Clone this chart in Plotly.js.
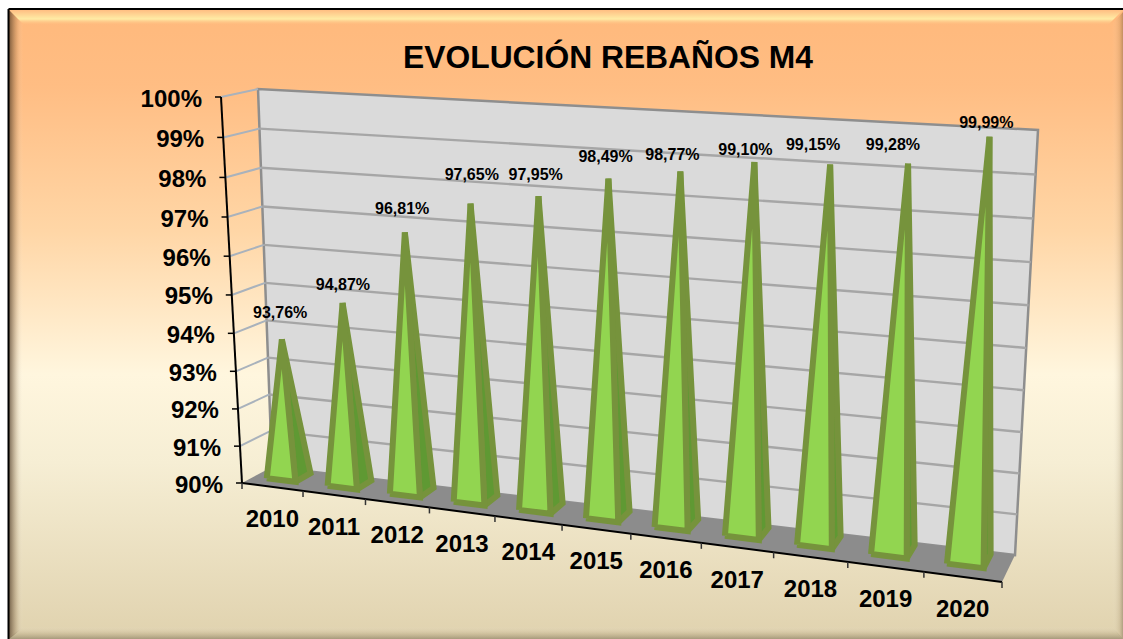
<!DOCTYPE html>
<html><head><meta charset="utf-8">
<script src="https://cdn.plot.ly/plotly-3.0.1.min.js"></script>
<style>html,body{margin:0;padding:0;background:#fff}#chart{width:1123px;height:639px}</style>
</head><body><div id="chart"></div>
<script>
// ---- data ----
const years = ['2010','2011','2012','2013','2014','2015','2016','2017','2018','2019','2020'];
const herdPct = [93.76,94.87,96.81,97.65,97.95,98.49,98.77,99.10,99.15,99.28,99.99];
const axisTicks = [90,91,92,93,94,95,96,97,98,99,100];
const titleText = 'EVOLUCIÓN REBAÑOS M4';
// label placement nudges per year (px from the pyramid's apex)
const nudgeX = [-4,-2,-5,-1,-5,-5,-10,-11,-19,-17,-5];
const nudgeY = [-25,-17,-22,-27,-20,-20,-15,-11,-18,-17,-12];

// ---- 3D box projected on the page ----
const box = {
  fl0:[242,483], fr0:[1002,582], bl0:[272,467], br0:[1015,555],
  fl1:[221,97],  fr1:[1030,146], bl1:[258,89],  br1:[1038,130]
};
const persp = (t,s)=> t*s/(1+(s-1)*t);
const uOf = t => persp(t,0.873);
const vOf = val => persp((val-90)/10,0.95);
const mix = (a,b,t)=>[a[0]+(b[0]-a[0])*t,a[1]+(b[1]-a[1])*t];
function P(u,v,d){
  const b0=mix(mix(box.fl0,box.bl0,d),mix(box.fr0,box.br0,d),u);
  const b1=mix(mix(box.fl1,box.bl1,d),mix(box.fr1,box.br1,d),u);
  return mix(b0,b1,v);
}
const poly = pts => ({x:pts.map(p=>p[0]),y:pts.map(p=>p[1])});

const traces=[];
function gradRect(x0,y0,x1,y1,type,stops,start,stop,pts){
  const p = pts || [[x0,y0],[x1,y0],[x1,y1],[x0,y1],[x0,y0]];
  traces.push({...poly(p),mode:'lines',line:{width:0},fill:'toself',hoverinfo:'skip',
    fillgradient:{type,colorscale:stops,start,stop}});
}
function fillPoly(pts,fill,lc,lw){
  traces.push({...poly(pts.concat([pts[0]])),mode:'lines',fill:'toself',fillcolor:fill,
    line:{color:lc||fill,width:lw||0},hoverinfo:'skip'});
}
function line(pts,color,w){
  traces.push({...poly(pts),mode:'lines',line:{color,width:w},hoverinfo:'skip'});
}

// ---- frame and background ----
gradRect(9,10,1123,639,'vertical',[
  [0,'#FFB97C'],[0.12,'#FFBD83'],[0.35,'#FFD6A6'],[0.58,'#FFF6DE'],[0.72,'#F6EED4'],[1,'#E0D2AE']],10,639);
gradRect(9,10,1123,25,'vertical',[
  [0,'rgba(255,190,130,1)'],[0.6,'rgba(255,236,165,1)'],[1,'rgba(255,190,130,0)']],10,25,
  [[9,10],[1123,10],[1108,25],[24,25],[9,10]]);
gradRect(9,10,23,639,'horizontal',[
  [0,'rgba(70,50,30,0.7)'],[0.55,'rgba(120,90,60,0.2)'],[1,'rgba(255,255,255,0)']],9,23,
  [[9,10],[23,24],[23,628],[9,639],[9,10]]);
gradRect(1112,10,1123,639,'horizontal',[
  [0,'rgba(255,255,255,0)'],[0.7,'rgba(120,95,60,0.15)'],[1,'rgba(80,60,40,0.35)']],1112,1123,
  [[1123,12],[1112,24],[1112,628],[1123,639],[1123,12]]);
gradRect(9,626,1123,639,'vertical',[
  [0,'rgba(255,255,255,0)'],[0.6,'rgba(120,105,70,0.18)'],[1,'rgba(80,70,50,0.4)']],626,639,
  [[22,626],[1112,626],[1123,639],[9,639],[22,626]]);
line([[8.5,9],[1123,9]],'#000',2);
line([[8.5,9],[8.5,639]],'#000',2);

// ---- walls and floor ----
fillPoly([P(0,0,1),P(1,0,1),P(1,1,1),P(0,1,1)],'#DADADA','#8E8E8E',2.5);
fillPoly([P(0,0,0),P(1,0,0),P(1,0,1),P(0,0,1)],'#8C8C8C');
axisTicks.forEach((t,k)=>{
  const v=vOf(t);
  if(k>0 && k<axisTicks.length-1) line([P(0,v,1),P(1,v,1)],'#A6A6A6',2.4);
  if(k>0) line([P(0,v,0),P(0,v,1)],'#A9B2BC',2);
  line([[P(0,v,0)[0]-6,P(0,v,0)[1]],P(0,v,0)],'#000',1.5);
});
line([P(0,0,0),P(0,1,0)],'#000',2);
line([P(0,0,0),P(1,0,0)],'#000',2);
for(let i=0;i<=years.length;i++){
  const a=P(uOf(i/years.length),0,0);
  line([a,[a[0],a[1]+6]],'#333',1.5);
}

// ---- pyramids ----
const halfU=0.0215, dFront=0.40, dBack=0.92, shiftU=-0.004, apexShiftU=-0.006, strokeDrop=0.008;
herdPct.forEach((val,i)=>{
  const c=(i+0.5)/years.length;
  const L=uOf(c-halfU)+shiftU, R=uOf(c+halfU)+shiftU, C=uOf(c)+apexShiftU;
  const dC=(dFront+dBack)/2, v=vOf(val)-strokeDrop;
  const fl=P(L,0,dFront), fr=P(R,0,dFront), rb=P(R,0,dBack), apex=P(C,v,dC);
  fillPoly([fr,rb,apex],'#5F9933','#76933C',6);
  fillPoly([fl,fr,apex],'#92D550','#76933C',6);
});

// ---- text ----
const tf=(size)=>({family:'"Liberation Sans",Arial,sans-serif',size,color:'#000',weight:'bold'});
traces.push({
  x:axisTicks.map(t=>P(0,vOf(t),0)[0]-19),
  y:axisTicks.map(t=>P(0,vOf(t),0)[1]+3.5),
  text:axisTicks.map(t=>t+'%'),mode:'text',textposition:'middle left',
  textfont:tf(24),hoverinfo:'skip'});
traces.push({
  x:years.map((y,i)=>P(uOf((i+0.5)/years.length),0,0)[0]),
  y:years.map((y,i)=>P(uOf((i+0.5)/years.length),0,0)[1]+34),
  text:years,mode:'text',textposition:'middle center',textfont:tf(24),hoverinfo:'skip'});
const tips=herdPct.map((val,i)=>P(uOf((i+0.5)/years.length)+shiftU,vOf(val)-strokeDrop,0.685));
traces.push({
  x:tips.map((p,i)=>p[0]+nudgeX[i]),
  y:tips.map((p,i)=>p[1]+nudgeY[i]),
  text:herdPct.map(v=>v.toFixed(2).replace('.',',')+'%'),
  mode:'text',textposition:'middle center',textfont:tf(16),hoverinfo:'skip'});

Plotly.newPlot('chart',traces,{
  width:1123,height:639,margin:{l:0,r:0,t:0,b:0},showlegend:false,
  paper_bgcolor:'#fff',plot_bgcolor:'rgba(0,0,0,0)',
  xaxis:{range:[0,1123],visible:false,fixedrange:true},
  yaxis:{range:[639,0],visible:false,fixedrange:true},
  title:{text:'<b>'+titleText+'</b>',x:608/1123,y:1-57/639,xanchor:'center',yanchor:'middle',
    font:{family:'"Liberation Sans",Arial,sans-serif',size:31.8,color:'#000'}}
},{displayModeBar:false,staticPlot:true});
</script></body></html>
